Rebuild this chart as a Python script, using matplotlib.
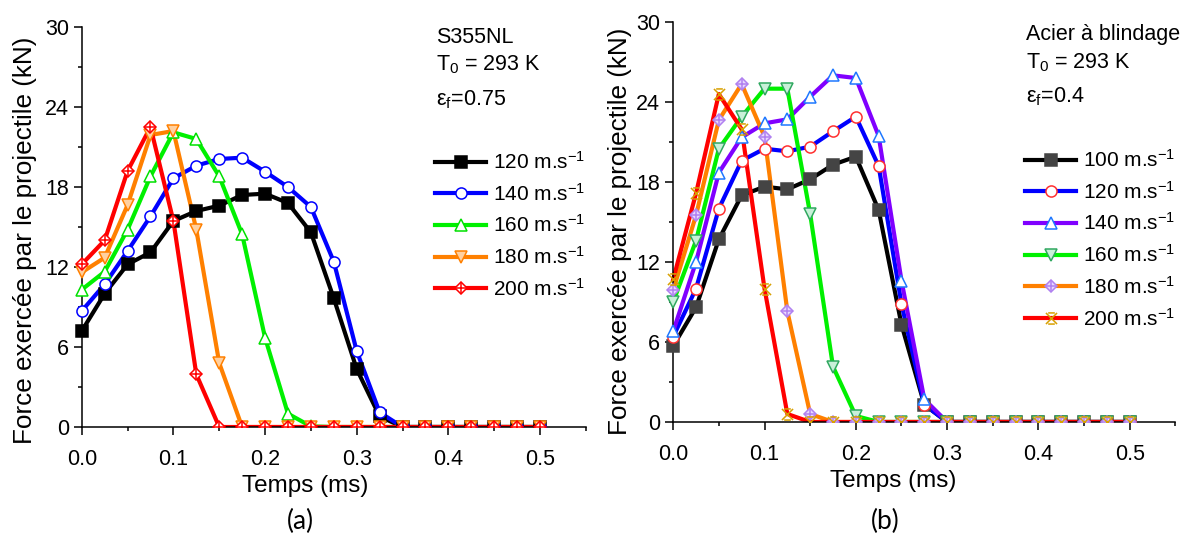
import numpy as np
import matplotlib.pyplot as plt
from matplotlib.path import Path
from matplotlib.patches import Rectangle
from matplotlib.ticker import MultipleLocator

plt.rcParams['font.family'] = ['Liberation Sans', 'DejaVu Sans']
plt.rcParams['mathtext.fontset'] = 'custom'
plt.rcParams['mathtext.rm'] = 'Liberation Sans'
plt.rcParams['mathtext.it'] = 'Liberation Sans:italic'

temps = [0.0, 0.025, 0.05, 0.075, 0.1, 0.125, 0.15, 0.175, 0.2, 0.225, 0.25,
         0.275, 0.3, 0.325, 0.35, 0.375, 0.4, 0.425, 0.45, 0.475, 0.5]

# (a) S355NL
labels_a = ['120 m.s$^{-1}$', '140 m.s$^{-1}$', '160 m.s$^{-1}$',
            '180 m.s$^{-1}$', '200 m.s$^{-1}$']
force_a_120 = [7.2, 10.0, 12.2, 13.1, 15.45, 16.2, 16.6, 17.4, 17.5, 16.8, 14.6,
               9.65, 4.35, 0.8, 0, 0, 0, 0, 0, 0, 0]
force_a_140 = [8.7, 10.7, 13.2, 15.8, 18.65, 19.6, 20.1, 20.2, 19.15, 18.0, 16.5,
               12.4, 5.7, 1.1, 0, 0, 0, 0, 0, 0, 0]
force_a_160 = [10.3, 11.65, 14.8, 18.8, 22.1, 21.6, 18.8, 14.45, 6.7, 1.0, 0.05,
               0, 0, 0, 0, 0, 0, 0, 0, 0, 0]
force_a_180 = [11.6, 12.7, 16.65, 21.9, 22.2, 14.8, 4.8, 0, 0, 0, 0,
               0, 0, 0, 0, 0, 0, 0, 0, 0, 0]
force_a_200 = [12.2, 14.0, 19.2, 22.5, 15.45, 3.95, 0, 0, 0, 0, 0,
               0, 0, 0, 0, 0, 0, 0, 0, 0, 0]

# (b) Acier a blindage
labels_b = ['100 m.s$^{-1}$', '120 m.s$^{-1}$', '140 m.s$^{-1}$',
            '160 m.s$^{-1}$', '180 m.s$^{-1}$', '200 m.s$^{-1}$']
force_b_100 = [5.7, 8.6, 13.7, 17.0, 17.65, 17.45, 18.2, 19.3, 19.9, 15.9, 7.3,
               1.3, 0, 0, 0, 0, 0, 0, 0, 0, 0]
force_b_120 = [6.4, 10.0, 16.0, 19.6, 20.5, 20.3, 20.65, 21.8, 22.9, 19.2, 8.85,
               1.3, 0, 0, 0, 0, 0, 0, 0, 0, 0]
force_b_140 = [6.8, 12.0, 18.7, 21.35, 22.4, 22.7, 24.4, 26.0, 25.8, 21.45, 10.6,
               1.7, 0, 0, 0, 0, 0, 0, 0, 0, 0]
force_b_160 = [9.0, 13.6, 20.5, 22.9, 25.0, 25.0, 15.6, 4.15, 0.45, 0, 0,
               0, 0, 0, 0, 0, 0, 0, 0, 0, 0]
force_b_180 = [9.9, 15.5, 22.65, 25.35, 21.4, 8.3, 0.6, 0, 0, 0, 0,
               0, 0, 0, 0, 0, 0, 0, 0, 0, 0]
force_b_200 = [10.7, 17.15, 24.6, 21.95, 10.0, 0.6, 0, 0, 0, 0, 0,
               0, 0, 0, 0, 0, 0, 0, 0, 0, 0]

# x with bars marker (Origin style)
xbar = Path([(-1, -1), (1, 1), (-1, 1), (1, -1), (-0.6, 1), (0.6, 1), (-0.6, -1), (0.6, -1)],
            [Path.MOVETO, Path.LINETO, Path.MOVETO, Path.LINETO,
             Path.MOVETO, Path.LINETO, Path.MOVETO, Path.LINETO])

# line color, marker, marker face, marker edge, extra marker
style_a = [
    ('black', 's', 'black', 'black', None),
    ('#0000ff', 'o', 'white', '#0000ff', None),
    ('#00f000', '^', 'white', '#00e000', None),
    ('#ff8000', 'v', '#ffd0a0', '#ff8000', None),
    ('#ff0000', 'D', 'white', '#ff0000', '+'),
]
style_b = [
    ('black', 's', '#444444', '#444444', None),
    ('#0000ff', 'o', 'white', '#ff3030', None),
    ('#8000ff', '^', 'white', '#1e78ff', None),
    ('#00f000', 'v', '#c8f0d8', '#30a860', None),
    ('#ff8000', 'D', '#e8d8ff', '#b080f0', '+'),
    ('#ff0000', xbar, 'none', '#d8a000', None),
]


def draw_panel(ax, series, labels, styles, ylab_pos, xlab_pos):
    # clip only at the bottom of the axes (Origin clips at y=0)
    clip = Rectangle((-0.1, 0), 1.2, 1.2, transform=ax.transAxes, fill=False)
    handles = []
    for y, lab, (lc, mk, mfc, mec, extra) in zip(series, labels, styles):
        ln, = ax.plot(temps, y, color=lc, lw=3, zorder=2)
        ln.set_clip_path(clip)
        ms = 6.5 if mk == 'D' else 8
        mline, = ax.plot(temps, y, ls='none', marker=mk, ms=ms, mfc=mfc, mec=mec,
                         mew=1.1, zorder=3)
        mline.set_clip_path(clip)
        h = [plt.Line2D([], [], color=lc, lw=3), mline]
        if extra:
            pl, = ax.plot(temps, y, ls='none', marker=extra, ms=9.2, mec=mec,
                          mew=1.1, zorder=3)
            pl.set_clip_path(clip)
            h.append(pl)
        handles.append(tuple(h))
    ax.set_xlim(0, 0.55)
    ax.set_ylim(0, 30)
    ax.xaxis.set_major_locator(MultipleLocator(0.1))
    ax.xaxis.set_minor_locator(MultipleLocator(0.05))
    ax.yaxis.set_major_locator(MultipleLocator(6))
    ax.yaxis.set_minor_locator(MultipleLocator(3))
    ax.xaxis.set_major_formatter(plt.FuncFormatter(lambda v, p: f'{v:.1f}'))
    ax.spines['top'].set_visible(False)
    ax.spines['right'].set_visible(False)
    for s in ('left', 'bottom'):
        ax.spines[s].set_linewidth(1.1)
    ax.tick_params(which='major', direction='out', length=5.8, width=1.1, labelsize=15.5)
    ax.tick_params(axis='x', which='major', pad=10)
    ax.tick_params(axis='y', which='major', pad=3.5)
    ax.tick_params(which='minor', direction='out', length=3, width=1.1)
    ax.set_xlabel('Temps (ms)', fontsize=17.5)
    ax.set_ylabel('Force exercée par le projectile (kN)', fontsize=18.8)
    ax.yaxis.set_label_coords(*ylab_pos)
    ax.xaxis.set_label_coords(*xlab_pos)
    return handles


fig = plt.figure(figsize=(11.97, 5.41), dpi=100)
ax1 = fig.add_axes([0.0683, 0.2107, 0.4211, 0.7394])
ax2 = fig.add_axes([0.5624, 0.2200, 0.4196, 0.7393])

h1 = draw_panel(ax1, [force_a_120, force_a_140, force_a_160, force_a_180, force_a_200],
                labels_a, style_a, (-0.089, 0.4675), (0.444, -0.121))
h2 = draw_panel(ax2, [force_b_100, force_b_120, force_b_140, force_b_160, force_b_180,
                      force_b_200], labels_b, style_b, (-0.082, 0.4775), (0.438, -0.121))

leg_kw = dict(loc='upper left', frameon=False, fontsize=15, handlelength=2.45,
              handletextpad=0.34, labelspacing=0.47, borderpad=0, borderaxespad=0)
fig.legend(h1, labels_a, bbox_to_anchor=(435 / 1197, 1 - 151 / 541), **leg_kw)
fig.legend(h2, labels_b, bbox_to_anchor=(1025 / 1197, 1 - 149 / 541), **leg_kw)


def fy(py):
    return 1 - py / 541


fig.text(436 / 1197, fy(43), 'S355NL', fontsize=15.5)
fig.text(436 / 1197, fy(70), 'T$_0$ = 293 K', fontsize=15.5)
fig.text(436 / 1197, fy(105), 'ε$_\\mathrm{f}$=0.75', fontsize=15.5)
fig.text(1026 / 1197, fy(40), 'Acier à blindage', fontsize=15.5)
fig.text(1026 / 1197, fy(68), 'T$_0$ = 293 K', fontsize=15.5)
fig.text(1026 / 1197, fy(102), 'ε$_\\mathrm{f}$=0.4', fontsize=15.5)

fig.text(300 / 1197, fy(521), '(a)', fontsize=19, family='Lato', ha='center', va='center')
fig.text(885 / 1197, fy(521), '(b)', fontsize=19, family='Lato', ha='center', va='center')

fig.savefig('out.png', dpi=100)
